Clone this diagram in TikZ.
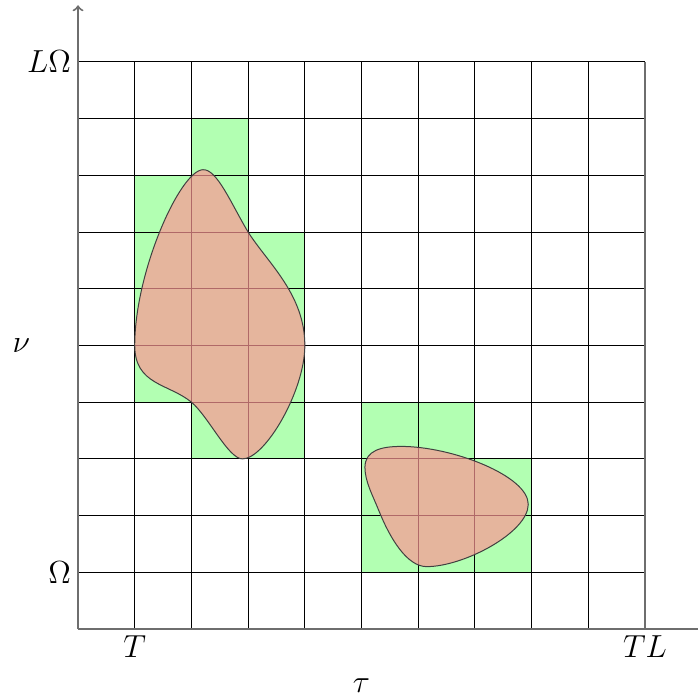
\RequirePackage{fix-cm}
\documentclass[tikz,border=0pt]{standalone}
\definecolor{blobc}{RGB}{252,151,149}
\definecolor{axisc}{RGB}{110,110,110}
\begin{document}
\begin{tikzpicture}[x=1cm,y=1cm,
  cell/.style={fill=green!30},
  blob/.style={fill=blobc,fill opacity=0.7,draw=black!75,line width=0.5pt},
  gridline/.style={black,line width=0.5pt},
  axis/.style={axisc,line width=1pt},
  lab/.style={font=\fontsize{16}{19}\selectfont}]
\useasboundingbox (-1.376,-1.252) rectangle (10.917,11.093);
% green cells
\fill[cell] (2,8) rectangle (3,9);
\fill[cell] (1,7) rectangle (3,8);
\fill[cell] (1,4) rectangle (4,7);
\fill[cell] (2,3) rectangle (4,4);
\fill[cell] (5,3) rectangle (7,4);
\fill[cell] (5,1) rectangle (8,3);
% grid
\draw[gridline] (0,0) grid (10,10);
% blobs
\draw[blob] (2.2,8.1) .. controls (2.45,8.12) and (2.7,7.5) .. (3.0,7.0)
  .. controls (3.35,6.45) and (4,5.9) .. (4,5)
  .. controls (4,4.2) and (3.3,3.0) .. (2.9,3.0)
  .. controls (2.65,3.0) and (2.3,3.75) .. (2.0,4.0)
  .. controls (1.6,4.33) and (1.0,4.3) .. (1.0,5.0)
  .. controls (1.0,6.3) and (1.8,8.08) .. (2.2,8.1) -- cycle;
\draw[blob] (5.06,2.85) .. controls (5.06,3.15) and (5.35,3.22) .. (5.7,3.22)
  .. controls (6.6,3.22) and (7.94,2.7) .. (7.94,2.2)
  .. controls (7.94,1.7) and (6.8,1.1) .. (6.15,1.1)
  .. controls (5.8,1.1) and (5.5,1.6) .. (5.3,2.1)
  .. controls (5.2,2.35) and (5.06,2.6) .. (5.06,2.85) -- cycle;
% axes
\coordinate (o) at (0,0);
\coordinate (ytop) at (0,11);
\coordinate (xend) at (11,0);
\coordinate (br) at (10,0);
\coordinate (tr) at (10,10);
\draw[axis,->] (o) -- (ytop);
\draw[axis] (o) -- (xend);
\draw[axis] (br) -- (tr);
% labels
\node[lab,left] (lo) at (0,10) {$L\Omega$};
\node[lab,left] (om) at (0,1) {$\Omega$};
\node[lab] (nu) at (-1,5) {$\nu$};
\node[lab,below] (t) at (1,0) {$T$};
\node[lab,below] (tl) at (10,0) {$TL$};
\node[lab] (tau) at (5,-1) {$\tau$};
\end{tikzpicture}
\end{document}
